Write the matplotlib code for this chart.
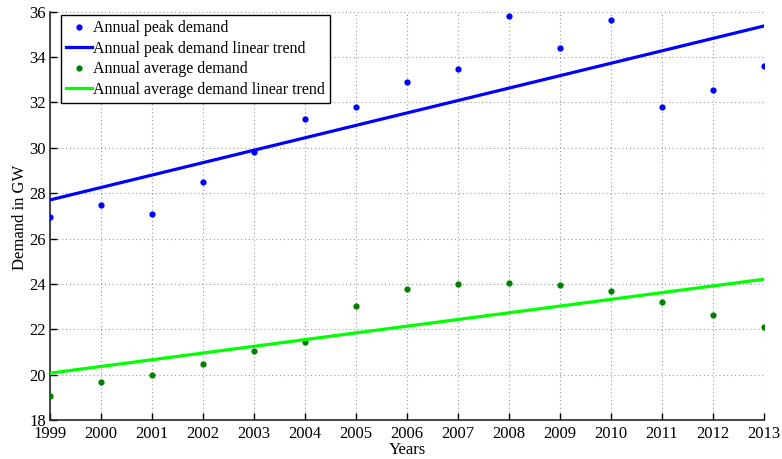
import numpy as np
import matplotlib
matplotlib.use("Agg")
import matplotlib.pyplot as plt

years = [1999, 2000, 2001, 2002, 2003, 2004, 2005, 2006, 2007, 2008, 2009, 2010, 2011, 2012, 2013]
peak_demand = [26.97, 27.5, 27.1, 28.48, 29.8, 31.25, 31.8, 32.88, 33.47, 35.82, 34.4, 35.65, 31.8, 32.53, 33.6]
average_demand = [19.07, 19.68, 19.98, 20.45, 21.04, 21.45, 23.02, 23.77, 23.99, 24.02, 23.95, 23.68, 23.21, 22.63, 22.1]

plt.rcParams['font.family'] = ['Liberation Serif', 'DejaVu Serif']
plt.rcParams['font.size'] = 11.5

x = np.array(years, dtype=float)
peak = np.array(peak_demand)
avg = np.array(average_demand)

# least-squares linear trends
peak_fit = np.polyval(np.polyfit(x, peak, 1), x)
avg_fit = np.polyval(np.polyfit(x, avg, 1), x)

fig = plt.figure(figsize=(7.82, 4.59), dpi=100)
ax = fig.add_axes([50 / 782, 1 - 420 / 459, 714 / 782, 408.3 / 459])

ax.plot(x, peak, 'o', color=(0, 0, 1), markersize=4.5, markeredgewidth=0, label='Annual peak demand', zorder=3)
ax.plot(x, peak_fit, '-', color=(0, 0, 1), linewidth=2.3, label='Annual peak demand linear trend', zorder=3)
ax.plot(x, avg, 'o', color=(0, 0.5, 0), markersize=4.5, markeredgewidth=0, label='Annual average demand', zorder=3)
ax.plot(x, avg_fit, '-', color=(0, 1, 0), linewidth=2.3, label='Annual average demand linear trend', zorder=3)

ax.set_xlim(1999, 2013)
ax.set_ylim(18, 36)
ax.set_xticks(years)
ax.set_xticklabels([str(y) for y in years])
ax.set_yticks(np.arange(18, 37, 2))

ax.grid(True, linestyle=(0, (1, 2.5)), color=(0.6, 0.6, 0.6), linewidth=0.8)
ax.set_axisbelow(True)

for side in ('top', 'right'):
    ax.spines[side].set_visible(False)
for side in ('left', 'bottom'):
    ax.spines[side].set_color((0.15, 0.15, 0.15))
    ax.spines[side].set_linewidth(1.2)

ax.tick_params(direction='in', length=5, width=1, colors='black', labelsize=12)
ax.tick_params(axis='x', pad=4)
ax.tick_params(axis='y', pad=3)

ax.set_xlabel('Years', fontsize=12, labelpad=0)
ax.set_ylabel('Demand in GW', fontsize=12)
ax.yaxis.set_label_coords(-0.0305, 0.497)

leg = ax.legend(loc='upper left', bbox_to_anchor=(11 / 714, 1 - 3.5 / 408.3), fontsize=11.5,
                frameon=True, fancybox=False, edgecolor='black', framealpha=1,
                handlelength=1.6, handletextpad=0.1, borderpad=0.32, labelspacing=0.28,
                borderaxespad=0)
leg.get_frame().set_linewidth(1.0)

fig.savefig('out.png', dpi=100)
